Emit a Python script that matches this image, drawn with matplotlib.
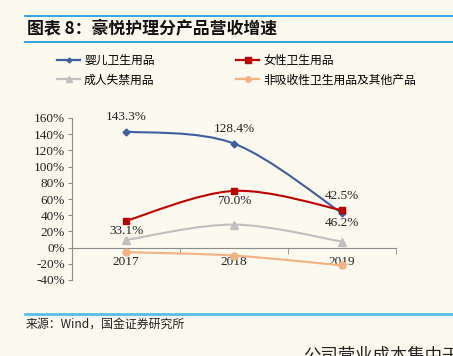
import numpy as np
import matplotlib
matplotlib.use("Agg")
import matplotlib.pyplot as plt
from matplotlib.path import Path
from matplotlib.patches import PathPatch
from matplotlib.lines import Line2D

# Data
years = ["2017", "2018", "2019"]
baby   = [143.3, 128.4, 42.5]   # 婴儿卫生用品
female = [33.1, 70.0, 46.2]     # 女性卫生用品
adult  = [9.5, 28.4, 7.4]       # 成人失禁用品
other  = [-5.6, -9.9, -22.0]    # 非吸收性卫生用品及其他产品
names  = ["婴儿卫生用品", "女性卫生用品", "成人失禁用品", "非吸收性卫生用品及其他产品"]
yticks = [-40, -20, 0, 20, 40, 60, 80, 100, 120, 140, 160]

CJK = ["Noto Sans CJK SC", "DejaVu Sans"]
SERIF = ["Liberation Serif", "DejaVu Serif"]
BG = "#FCF9EF"

W, H = 453, 356
fig = plt.figure(figsize=(W / 100, H / 100), dpi=100, facecolor=BG)


def fx(px):
    return px / W


def fy(py):
    return 1 - py / H


def smooth_path(xs, ys):
    # excel-like smoothed line (catmull-rom as cubic bezier)
    pts = np.column_stack([xs, ys]).astype(float)
    n = len(pts)
    verts = [pts[0]]
    codes = [Path.MOVETO]
    for i in range(n - 1):
        p0 = pts[max(i - 1, 0)]
        p1 = pts[i]
        p2 = pts[i + 1]
        p3 = pts[min(i + 2, n - 1)]
        c1 = p1 + (p2 - p0) / 6
        c2 = p2 - (p3 - p1) / 6
        verts += [c1, c2, p2]
        codes += [Path.CURVE4] * 3
    return Path(verts, codes)


# header / footer rules and texts
fig.add_artist(Line2D([fx(25), 1], [fy(16), fy(16)], color="#1F9CE0", lw=1.3))
fig.add_artist(Line2D([fx(25), 1], [fy(42), fy(42)], color="#1F9CE0", lw=1.3))
fig.text(fx(27), fy(28.5), "图表 8：豪悦护理分产品营收增速", family=CJK,
         fontsize=12.2, fontweight="bold", va="center", ha="left", color="#111111")
fig.add_artist(Line2D([fx(25), 1], [fy(313.5), fy(313.5)], color="#5BBDEA", lw=2))
fig.text(fx(26), fy(324), "来源：Wind，国金证券研究所", family=CJK,
         fontsize=8.6, va="center", ha="left", color="#222222")
fig.text(fx(303), fy(346), "公司营业成本集中于", family=CJK,
         fontsize=12.5, va="top", ha="left", color="#222222")

# plot area
ax = fig.add_axes([fx(72), fy(280), fx(396) - fx(72), fy(118) - fy(280)])
ax.set_facecolor(BG)
x = np.arange(len(years))
ax.set_xlim(-0.5, 2.5)
ax.set_ylim(-40, 160)

series = [
    (baby, "#3E5EA2", "D", 3.5),
    (female, "#C00000", "s", 5),
    (adult, "#BFBFBF", "^", 6),
    (other, "#F4B183", "o", 5),
]
handles = []
for (vals, col, mk, ms), nm in zip(series, names):
    ax.add_patch(PathPatch(smooth_path(x, vals), fill=False, edgecolor=col, lw=1.5, zorder=3))
    ax.plot(x, vals, ls="none", marker=mk, ms=ms, color=col, zorder=4)
    handles.append(Line2D([], [], color=col, lw=1.6, marker=mk, ms=ms - 1, label=nm))

# data labels
lab_kw = dict(family=SERIF, fontsize=9.5, ha="center", va="center",
              textcoords="offset points", color="#222222")
for i, v in enumerate(baby):
    ax.annotate(f"{v:.1f}%", (x[i], v), xytext=(0, 10.5 if i != 2 else 12.5), **lab_kw)
for i, v in enumerate(female):
    ax.annotate(f"{v:.1f}%", (x[i], v), xytext=(0, -7 if i != 2 else -9.5), **lab_kw)

# axes styling
for s in ["top", "right"]:
    ax.spines[s].set_visible(False)
ax.spines["left"].set_color("#8C8C8C")
ax.spines["bottom"].set_position(("data", 0))
ax.spines["bottom"].set_color("#8C8C8C")
ax.set_yticks(yticks)
ax.set_yticklabels([f"{t}%" for t in yticks], family=SERIF, fontsize=9.5, color="#222222")
ax.tick_params(axis="y", direction="out", length=3, color="#8C8C8C", pad=2)
ax.set_xticks(x)
ax.set_xticklabels(years, family=SERIF, fontsize=9.5, color="#222222")
ax.tick_params(axis="x", which="major", length=0, pad=6)
ax.set_xticks([-0.5, 0.5, 1.5, 2.5], minor=True)
ax.tick_params(axis="x", which="minor", direction="out", length=4, color="#8C8C8C")

# legend (row-wise order: fill column by column)
order = [0, 2, 1, 3]
leg = fig.legend(handles=[handles[i] for i in order], loc="upper left",
                 bbox_to_anchor=(fx(52), fy(49)),
                 ncol=2, frameon=False, prop={"family": CJK, "size": 8.5},
                 handlelength=2.0, handletextpad=0.3, columnspacing=6.9,
                 labelspacing=0.58, borderaxespad=0)

fig.savefig("out.png", dpi=100, facecolor=BG)
